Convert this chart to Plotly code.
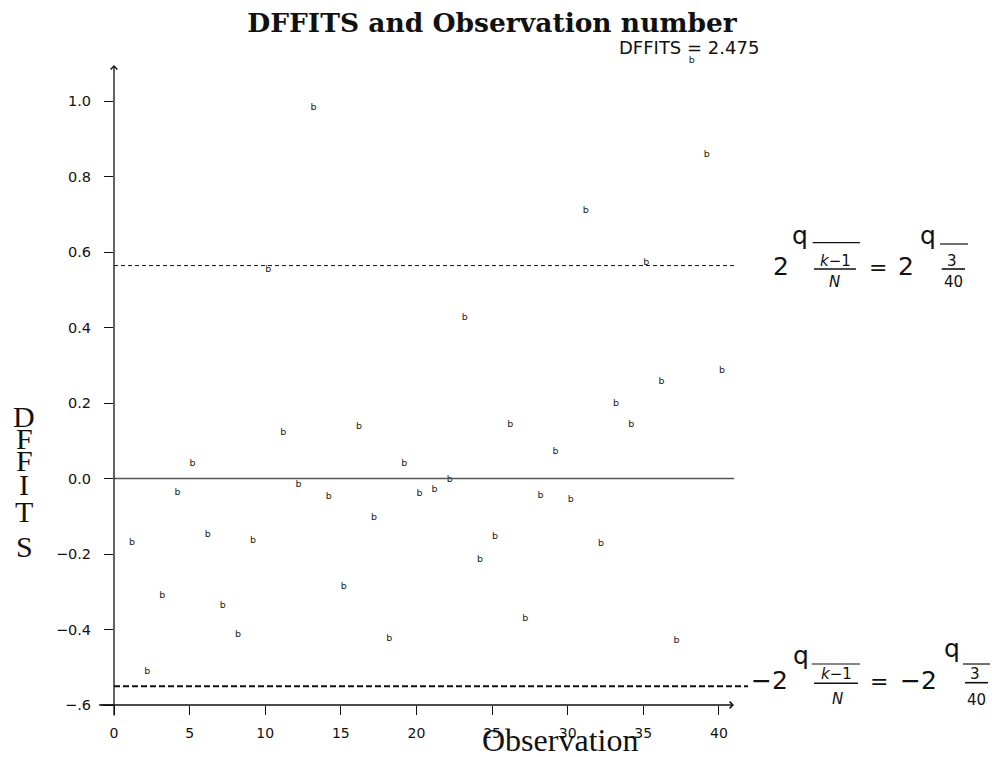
import plotly.graph_objects as go

# ---------------- data ----------------
observation = list(range(1, 41))
dffits = [-0.170, -0.512, -0.309, -0.037, 0.040, -0.148, -0.336, -0.413, -0.164, 0.552,
          0.122, -0.016, 0.983, -0.047, -0.287, 0.137, -0.103, -0.423, 0.040, -0.039,
          -0.029, -0.002, 0.427, -0.214, -0.153, 0.144, -0.370, -0.045, 0.072, -0.055,
          0.709, -0.172, 0.199, 0.144, 0.572, 0.257, -0.430, 2.475, 0.859, 0.287]
display_cap = 1.106          # values above this are drawn at the top of the frame
upper_cut = 0.564
lower_cut = -0.550
x_ticks = [0, 5, 10, 15, 20, 25, 30, 35, 40]
y_ticks = [-0.6, -0.4, -0.2, 0.0, 0.2, 0.4, 0.6, 0.8, 1.0]
y_ticktext = ["\u2212.6", "\u22120.4", "\u22120.2", "0.0", "0.2", "0.4", "0.6", "0.8", "1.0"]

display = [min(v, display_cap) for v in dffits]
big_label = "DFFITS = %.3f" % max(dffits)
big_obs = observation[dffits.index(max(dffits))]

# ---------------- layout helpers ----------------
W, H = 992, 757
ML, MR, MT, MB = 114, 258, 52, 52
PW, PH = W - ML - MR, H - MT - MB
X_RANGE = [0, 41.0]
Y_RANGE = [-0.6, -0.6 + PH / 377.5]


def px(x):
    return (x - ML) / PW


def py(y):
    return (H - MB - y) / PH


SANS = "DejaVu Sans"
SERIF = "Liberation Serif"

fig = go.Figure()

fig.add_trace(go.Scatter(
    x=observation, y=display, mode="text", text=["b"] * len(observation),
    textposition="middle right",
    textfont=dict(family=SANS, size=9.5, color="#222"),
    cliponaxis=False, hoverinfo="skip", showlegend=False))

shapes = []
# zero line
shapes.append(dict(type="line", xref="x", yref="y", x0=X_RANGE[0], x1=X_RANGE[1], y0=0, y1=0,
                   line=dict(color="#555", width=1.6)))
# upper cutoff
shapes.append(dict(type="line", xref="x", yref="y", x0=X_RANGE[0], x1=X_RANGE[1],
                   y0=upper_cut, y1=upper_cut, line=dict(color="#111", width=1, dash="4px,3px")))
# lower cutoff (runs to the formula)
shapes.append(dict(type="line", xref="paper", yref="y", x0=0, x1=px(748),
                   y0=lower_cut, y1=lower_cut, line=dict(color="#111", width=2, dash="6px,3px")))
# x axis extension to the left of the origin
shapes.append(dict(type="line", xref="paper", yref="paper", x0=px(99), x1=0, y0=0, y1=0,
                   line=dict(color="#111", width=1.3)))

annotations = []
# axes with arrow heads
annotations.append(dict(xref="x", yref="y", x=X_RANGE[1], y=Y_RANGE[0], ax=-(ML + PW - 99), ay=0,
                        axref="pixel", ayref="pixel", text="", showarrow=True,
                        arrowhead=4, arrowsize=1, arrowwidth=1.3, arrowcolor="#111"))
annotations.append(dict(xref="x", yref="paper", x=0, y=py(65), ax=0, ay=717 - 65,
                        text="", showarrow=True,
                        arrowhead=4, arrowsize=1, arrowwidth=1.3, arrowcolor="#111"))

# DFFITS value of the clipped point
annotations.append(dict(xref="x", yref="paper", x=big_obs, y=py(47), text=big_label,
                        showarrow=False, xanchor="center", yanchor="middle",
                        font=dict(family=SANS, size=18, color="#111")))

# x axis title
annotations.append(dict(xref="paper", yref="paper", x=px(560), y=py(740), text="Observation",
                        showarrow=False, xanchor="center", yanchor="middle",
                        font=dict(family=SERIF, size=32, color="#111")))

# y axis title (stacked letters)
for ch, yc in zip("DFFITS", [416, 438, 460, 484, 511, 546]):
    annotations.append(dict(xref="paper", yref="paper", x=px(24), y=py(yc), text=ch,
                            showarrow=False, xanchor="center", yanchor="middle",
                            font=dict(family=SERIF, size=30, color="#111")))


def txt(s, x, y, size, italic=False):
    annotations.append(dict(xref="paper", yref="paper", x=px(x), y=py(y),
                            text=("<i>%s</i>" % s) if italic else s,
                            showarrow=False, xanchor="center", yanchor="middle",
                            font=dict(family=SANS, size=size, color="#111")))


def rule(x0, x1, y, w):
    shapes.append(dict(type="line", xref="paper", yref="paper", x0=px(x0), x1=px(x1),
                       y0=py(y), y1=py(y), line=dict(color="#111", width=w)))


# upper formula
txt("2", 780.5, 266, 25)
txt("q", 800, 236, 25)
rule(812.7, 860, 242.7, 1.2)
txt("<i>k</i>\u22121", 835, 260.5, 15)
rule(814, 856, 269, 1.6)
txt("N", 834, 281.5, 15, italic=True)
txt("=", 878, 267.5, 22)
txt("2", 905.5, 266, 25)
txt("q", 927.5, 236, 25)
rule(940, 968, 244, 1.2)
txt("3", 951.5, 261, 15)
rule(941.7, 965, 269, 1.6)
txt("40", 954, 282, 15)

# lower formula
txt("\u22122", 769, 680, 25)
txt("q", 801, 655, 25)
rule(811.7, 860, 664, 1.2)
txt("<i>k</i>\u22121", 836, 673.5, 15)
rule(814, 858, 683.3, 1.6)
txt("N", 837.5, 699, 15, italic=True)
txt("=", 879, 681, 22)
txt("\u22122", 918, 680, 25)
txt("q", 951.5, 648, 25)
rule(963, 990, 664, 1.2)
txt("3", 975, 674, 15)
rule(965, 988, 682.7, 1.6)
txt("40", 976, 700, 15)

fig.update_layout(
    width=W, height=H,
    margin=dict(l=ML, r=MR, t=MT, b=MB, pad=0),
    paper_bgcolor="white", plot_bgcolor="white",
    showlegend=False,
    title=dict(text="<b>DFFITS and Observation number</b>", x=492 / W, xanchor="center",
               y=1 - 23 / H, yanchor="middle", yref="container",
               font=dict(family="DejaVu Serif", size=26.5, color="#111")),
    xaxis=dict(range=X_RANGE, showgrid=False, zeroline=False, showline=False,
               tickmode="array", tickvals=x_ticks, ticks="outside", ticklen=9,
               tickwidth=1.3, tickcolor="#111", ticklabelstandoff=6,
               tickfont=dict(family=SANS, size=14, color="#111")),
    yaxis=dict(range=Y_RANGE, showgrid=False, zeroline=False, showline=False,
               tickmode="array", tickvals=y_ticks, ticktext=y_ticktext,
               ticks="outside", ticklen=9, tickwidth=1.3, tickcolor="#111",
               ticklabelstandoff=10,
               tickfont=dict(family=SANS, size=14.5, color="#111")),
    shapes=shapes,
    annotations=annotations,
)

fig.write_html("out.html", config={"displayModeBar": False},
               post_script="document.body.style.margin='0px';document.body.style.padding='0px';")
